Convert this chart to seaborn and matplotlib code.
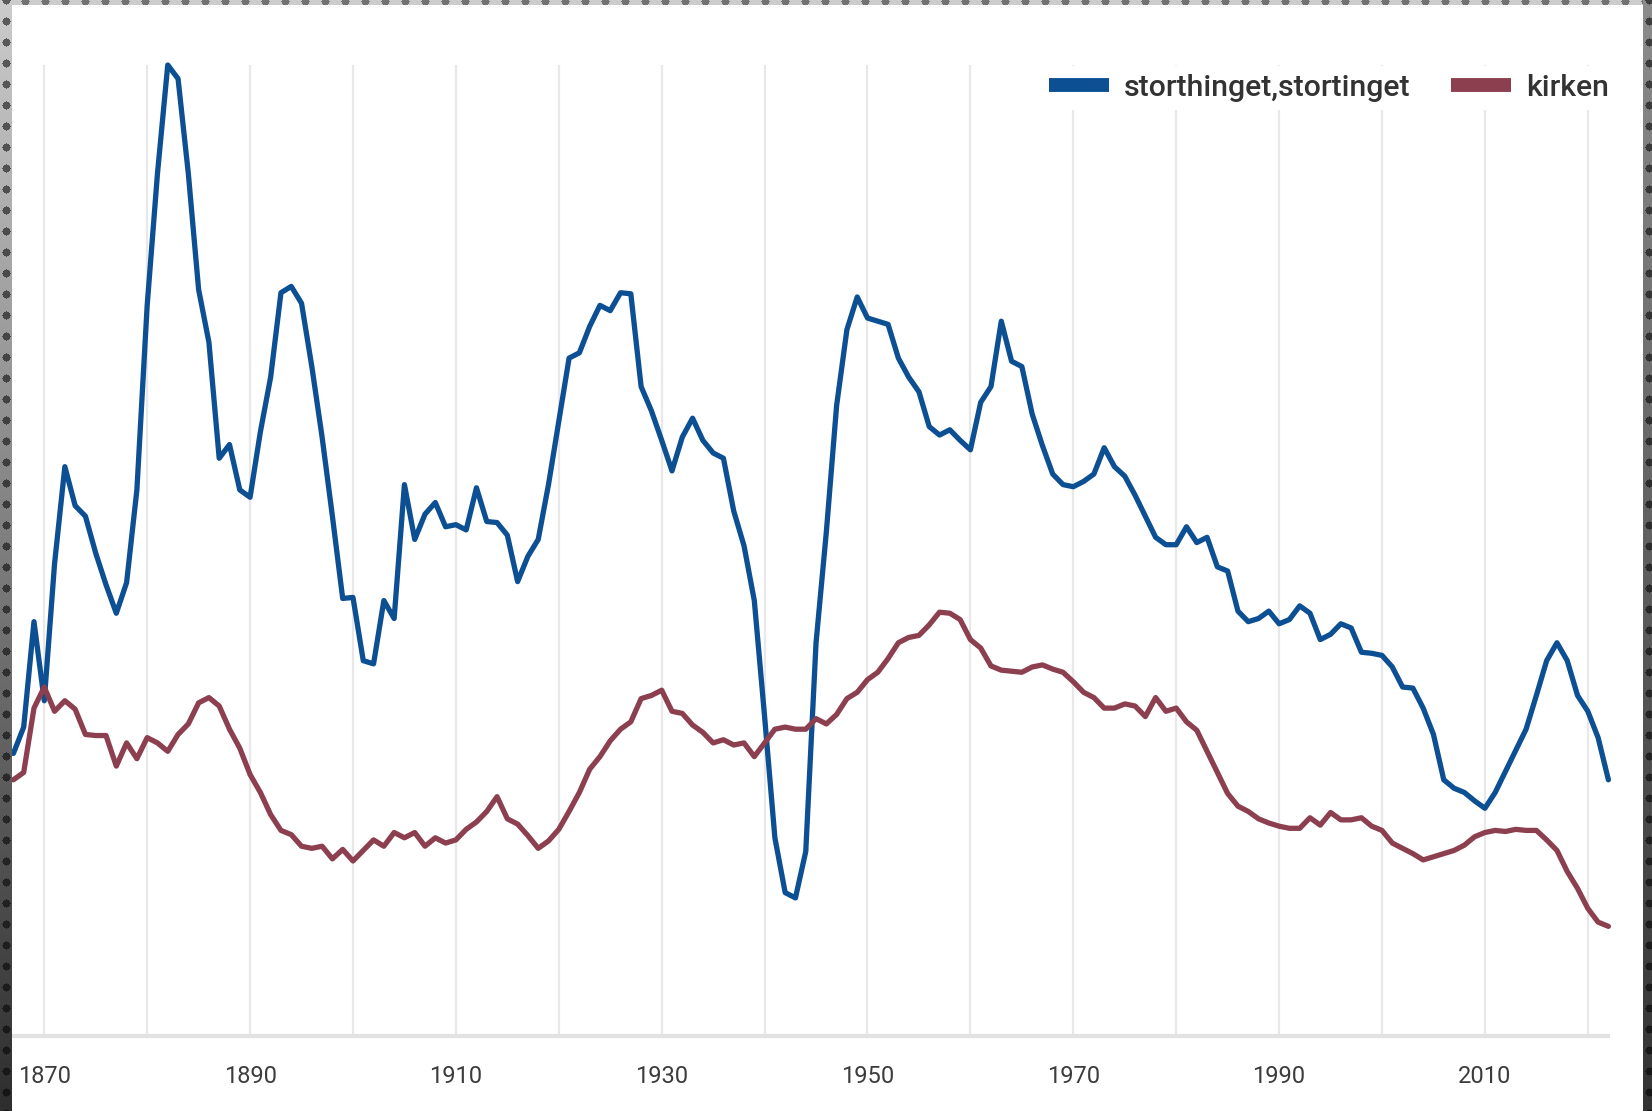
import numpy as np
import pandas as pd
import matplotlib
matplotlib.use("Agg")
import matplotlib.pyplot as plt
from matplotlib.lines import Line2D
import seaborn as sns

# ---------------- data ----------------
years = list(range(1867, 2023))

storthinget = [
    26.8, 29.3, 39.3, 31.8, 44.8, 54.0, 50.3, 49.3, 45.8, 42.8,   # 1867-1876
    40.1, 43.0, 51.8, 69.3, 81.8, 92.1, 90.8, 81.8, 70.8, 65.8,   # 1877-1886
    54.8, 56.1, 51.8, 51.1, 57.3, 62.5, 70.5, 71.1, 69.5, 63.5,   # 1887-1896
    56.8, 49.3, 41.5, 41.6, 35.6, 35.3, 41.3, 39.6, 52.3, 47.1,   # 1897-1906
    49.5, 50.6, 48.3, 48.5, 48.0, 52.0, 48.8, 48.7, 47.5, 43.1,   # 1907-1916
    45.5, 47.1, 52.3, 58.3, 64.3, 64.8, 67.3, 69.3, 68.8, 70.5,   # 1917-1926
    70.4, 61.6, 59.3, 56.5, 53.6, 56.8, 58.6, 56.5, 55.3, 54.8,   # 1927-1936
    49.8, 46.5, 41.3, 30.3, 18.8, 13.6, 13.1, 17.5, 37.3, 47.8,   # 1937-1946
    59.8, 67.0, 70.1, 68.1, 67.8, 67.5, 64.3, 62.5, 61.1, 57.8,   # 1947-1956
    57.0, 57.5, 56.5, 55.6, 60.1, 61.6, 67.8, 64.0, 63.5, 59.0,   # 1957-1966
    56.0, 53.3, 52.3, 52.1, 52.6, 53.3, 55.8, 54.0, 53.1, 51.3,   # 1967-1976
    49.3, 47.3, 46.6, 46.6, 48.3, 46.8, 47.3, 44.5, 44.1, 40.3,   # 1977-1986
    39.3, 39.6, 40.3, 39.1, 39.5, 40.8, 40.1, 37.6, 38.1, 39.1,   # 1987-1996
    38.7, 36.4, 36.3, 36.1, 35.0, 33.1, 33.0, 31.1, 28.6, 24.3,   # 1997-2006
    23.5, 23.1, 22.3, 21.6, 23.1, 25.1, 27.1, 29.1, 32.3, 35.6,   # 2007-2016
    37.3, 35.6, 32.3, 30.8, 28.3, 24.3,                           # 2017-2022
]

kirken = [
    24.3, 25.0, 31.1, 33.1, 30.8, 31.8, 31.0, 28.6, 28.5, 28.5,   # 1867-1876
    25.6, 27.8, 26.3, 28.3, 27.8, 27.0, 28.6, 29.6, 31.6, 32.1,   # 1877-1886
    31.3, 29.1, 27.3, 24.8, 23.1, 21.0, 19.5, 19.1, 18.0, 17.8,   # 1887-1896
    18.0, 16.8, 17.7, 16.6, 17.6, 18.6, 18.0, 19.3, 18.8, 19.3,   # 1897-1906
    18.0, 18.8, 18.3, 18.6, 19.6, 20.3, 21.3, 22.7, 20.6, 20.1,   # 1907-1916
    19.0, 17.8, 18.5, 19.6, 21.3, 23.1, 25.3, 26.5, 28.0, 29.1,   # 1917-1926
    29.8, 32.0, 32.3, 32.8, 30.8, 30.6, 29.5, 28.8, 27.8, 28.1,   # 1927-1936
    27.6, 27.8, 26.5, 27.8, 29.1, 29.3, 29.1, 29.1, 30.1, 29.6,   # 1937-1946
    30.5, 32.0, 32.6, 33.8, 34.5, 35.8, 37.3, 37.8, 38.0, 39.0,   # 1947-1956
    40.2, 40.1, 39.5, 37.6, 36.8, 35.1, 34.7, 34.6, 34.5, 35.0,   # 1957-1966
    35.2, 34.8, 34.5, 33.6, 32.6, 32.1, 31.1, 31.1, 31.5, 31.3,   # 1967-1976
    30.3, 32.1, 30.8, 31.1, 29.8, 29.0, 27.0, 25.0, 23.0, 21.8,   # 1977-1986
    21.3, 20.6, 20.2, 19.9, 19.7, 19.7, 20.7, 20.0, 21.2, 20.5,   # 1987-1996
    20.5, 20.7, 19.9, 19.5, 18.3, 17.8, 17.3, 16.7, 17.0, 17.3,   # 1997-2006
    17.6, 18.1, 18.9, 19.3, 19.5, 19.4, 19.6, 19.5, 19.5, 18.6,   # 2007-2016
    17.6, 15.6, 14.0, 12.1, 10.8, 10.4,                           # 2017-2022
]

series_names = ["storthinget,stortinget", "kirken"]
series_colors = ["#0D4F93", "#8C3F4F"]
tick_years = list(range(1870, 2021, 10))
tick_labels = [str(y) if (y - 1870) % 20 == 0 and y <= 2010 else "" for y in tick_years]

df = pd.DataFrame({
    "year": years * 2,
    "value": storthinget + kirken,
    "series": [series_names[0]] * len(years) + [series_names[1]] * len(years),
})

# ---------------- style ----------------
sns.set_theme(style="white")
plt.rcParams["font.family"] = ["Roboto", "DejaVu Sans"]

W, H = 1652, 1111
fig = plt.figure(figsize=(W / 100, H / 100), dpi=100, facecolor="white")

x0, x1 = 13.4, 1608.4
y_top, y_bot = 65, 1036
ax = fig.add_axes([x0 / W, (H - y_bot) / H, (x1 - x0) / W, (y_bot - y_top) / H])
ax.set_facecolor("white")

sns.lineplot(data=df, x="year", y="value", hue="series",
             palette=dict(zip(series_names, series_colors)),
             linewidth=3.8, legend=False, ax=ax, clip_on=False, zorder=3)

ax.set_xlim(1867, 2022)
ax.set_ylim(0, 92.1)
ax.set_xlabel("")
ax.set_ylabel("")
ax.set_yticks([])
ax.set_xticks(tick_years)
ax.set_xticklabels(tick_labels)
ax.grid(axis="x", color="#e8e8e8", linewidth=1.6, zorder=0)
ax.grid(axis="y", visible=False)
ax.tick_params(axis="x", direction="out", length=12, width=1.5, color="#e4e4e4",
               pad=9, labelsize=17, labelcolor="#3c3c3c")
for s in ["left", "right", "top"]:
    ax.spines[s].set_visible(False)
ax.spines["bottom"].set_color("#e2e2e2")
ax.spines["bottom"].set_linewidth(3)

handles = [Line2D([0], [0], color=c, lw=10, solid_capstyle="butt") for c in series_colors]
leg = ax.legend(handles, series_names, loc="upper right", ncol=2,
                bbox_to_anchor=(1617 / W, (H - 66) / H), bbox_transform=fig.transFigure,
                frameon=True, fancybox=False, borderaxespad=0, borderpad=0.25,
                handlelength=1.98, handletextpad=0.52, columnspacing=1.32,
                prop={"size": 21.8, "weight": "medium"})
leg.get_frame().set_facecolor("white")
leg.get_frame().set_edgecolor("white")
leg.get_frame().set_alpha(1)
for t in leg.get_texts():
    t.set_color("#333333")
leg.set_zorder(5)

# ---------------- screenshot-style dotted frame ----------------
img = np.zeros((H, W, 4), dtype=float)
yy, xx = np.mgrid[0:H, 0:W]
t = yy / (H - 1)
# left strip
left = xx < 12
bg_left = (0.80 - 0.62 * t)
img[left, 0] = bg_left[left]
img[left, 1] = bg_left[left]
img[left, 2] = bg_left[left]
img[left, 3] = 1
dots_left = left & (((xx - 6) ** 2 + ((yy - 11) % 21 - 10) ** 2) <= 16)
img[dots_left, :3] = (bg_left[dots_left] * 0.45)[:, None]
# right strip
right = xx >= 1643
bg_right = (0.55 - 0.35 * t)
img[right, 0] = bg_right[right]
img[right, 1] = bg_right[right]
img[right, 2] = bg_right[right]
img[right, 3] = 1
dots_right = right & (((xx - 1649) ** 2 + ((yy - 11) % 21 - 10) ** 2) <= 16)
img[dots_right, :3] = (bg_right[dots_right] * 0.45)[:, None]
# top strip
top = (yy < 5) & ~left & ~right
img[top, :3] = 0.80
img[top, 3] = 1
dots_top = top & ((((xx - 15) % 20 - 10) ** 2 + (yy - 1) ** 2) <= 16)
img[dots_top, :3] = 0.45
fig.figimage(img, xo=0, yo=0, origin="upper", zorder=10)

fig.savefig("out.png", dpi=100, facecolor="white")
